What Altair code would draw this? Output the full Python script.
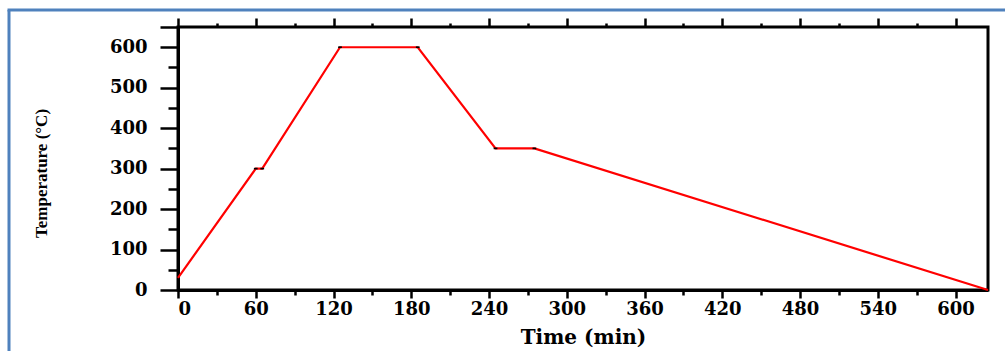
import altair as alt
import pandas as pd

# data
time_min = [0, 60, 65, 125, 185, 245, 275, 625]
temp_c = [30, 300, 300, 600, 600, 350, 350, 0]
vertex_time = [60, 65, 125, 185, 245, 275]
vertex_temp = [300, 300, 600, 600, 350, 350]
x_major = [0, 60, 120, 180, 240, 300, 360, 420, 480, 540, 600]
x_minor = [30, 90, 150, 210, 270, 330, 390, 450, 510, 570]
y_major = [0, 100, 200, 300, 400, 500, 600, 650]
y_minor = [50, 150, 250, 350, 450, 550]

df = pd.DataFrame({"t": time_min, "T": temp_c})
dv = pd.DataFrame({"t": vertex_time, "T": vertex_temp})

xs = alt.Scale(domain=[0, 625], nice=False, zero=False)
ys = alt.Scale(domain=[0, 650], nice=False, zero=False)

LBL = dict(labelFont="DejaVu Serif", labelFontWeight="bold", labelFontSize=18,
           labelColor="black")

line = alt.Chart(df).mark_line(color="#ff0000", strokeWidth=2.2).encode(
    x=alt.X("t:Q", scale=xs, axis=alt.Axis(
        orient="bottom", values=x_major, tickSize=8, labelPadding=2,
        title="Time (min)", titleFont="DejaVu Serif", titleFontWeight="bold",
        titleFontSize=20, titleX=405, titleY=47, titleBaseline="middle",
        titleAlign="center", titleColor="black", **LBL)),
    y=alt.Y("T:Q", scale=ys, axis=alt.Axis(
        orient="left", values=y_major, tickSize=18, labelPadding=13,
        labelExpr="datum.value == 650 ? '' : datum.label",
        title="Temperature (°C)", titleFont="Liberation Serif",
        titleFontWeight="bold", titleFontSize=17, titleX=-137, titleY=146,
        titleBaseline="middle", titleAlign="center", titleAngle=270,
        titleColor="black", **LBL)),
)

minor = alt.Chart(df).mark_line(opacity=0).encode(
    x=alt.X("t:Q", scale=xs, axis=alt.Axis(
        orient="bottom", values=x_minor, tickSize=5, labels=False,
        domain=False, title="")),
    y=alt.Y("T:Q", scale=ys, axis=alt.Axis(
        orient="left", values=y_minor, tickSize=10, labels=False,
        domain=False, title="")),
)

top_major = alt.Chart(df).mark_line(opacity=0).encode(
    x=alt.X("t:Q", scale=xs, axis=alt.Axis(
        orient="top", values=x_major, tickSize=9, labels=False,
        domain=False, title="")),
    y=alt.Y("T:Q", scale=ys, axis=None),
)

top_minor = alt.Chart(df).mark_line(opacity=0).encode(
    x=alt.X("t:Q", scale=xs, axis=alt.Axis(
        orient="top", values=x_minor, tickSize=4, labels=False,
        domain=False, title="")),
    y=alt.Y("T:Q", scale=ys, axis=None),
)

vertices = alt.Chart(dv).mark_point(
    shape="M-1,-0.45L1,-0.45L1,0.45L-1,0.45Z", filled=True, color="black",
    size=14, opacity=1).encode(
    x=alt.X("t:Q", scale=xs, axis=None),
    y=alt.Y("T:Q", scale=ys, axis=None),
)

frame_df = pd.DataFrame({"k": [0]})
frame_left = alt.Chart(frame_df).mark_rule(color="#4F81BD", strokeWidth=3).encode(
    x=alt.value(-169), y=alt.value(-17), y2=alt.value(340))
frame_top = alt.Chart(frame_df).mark_rule(color="#4F81BD", strokeWidth=3).encode(
    x=alt.value(-170.5), x2=alt.value(840), y=alt.value(-17))

chart = alt.layer(
    line, minor, top_major, top_minor, vertices, frame_left, frame_top
).resolve_axis(x="independent", y="independent").properties(
    width=810, height=263,
    autosize=alt.AutoSizeParams(type="none"),
    padding={"left": 178, "top": 27, "right": 17, "bottom": 61},
    background="white",
).configure_view(
    stroke="black", strokeWidth=3
).configure_axis(
    domainColor="black", domainWidth=3, tickColor="black", tickWidth=2.5,
    grid=False, ticks=True
)

chart.save("out.html", embed_options={"renderer": "svg", "actions": False})
